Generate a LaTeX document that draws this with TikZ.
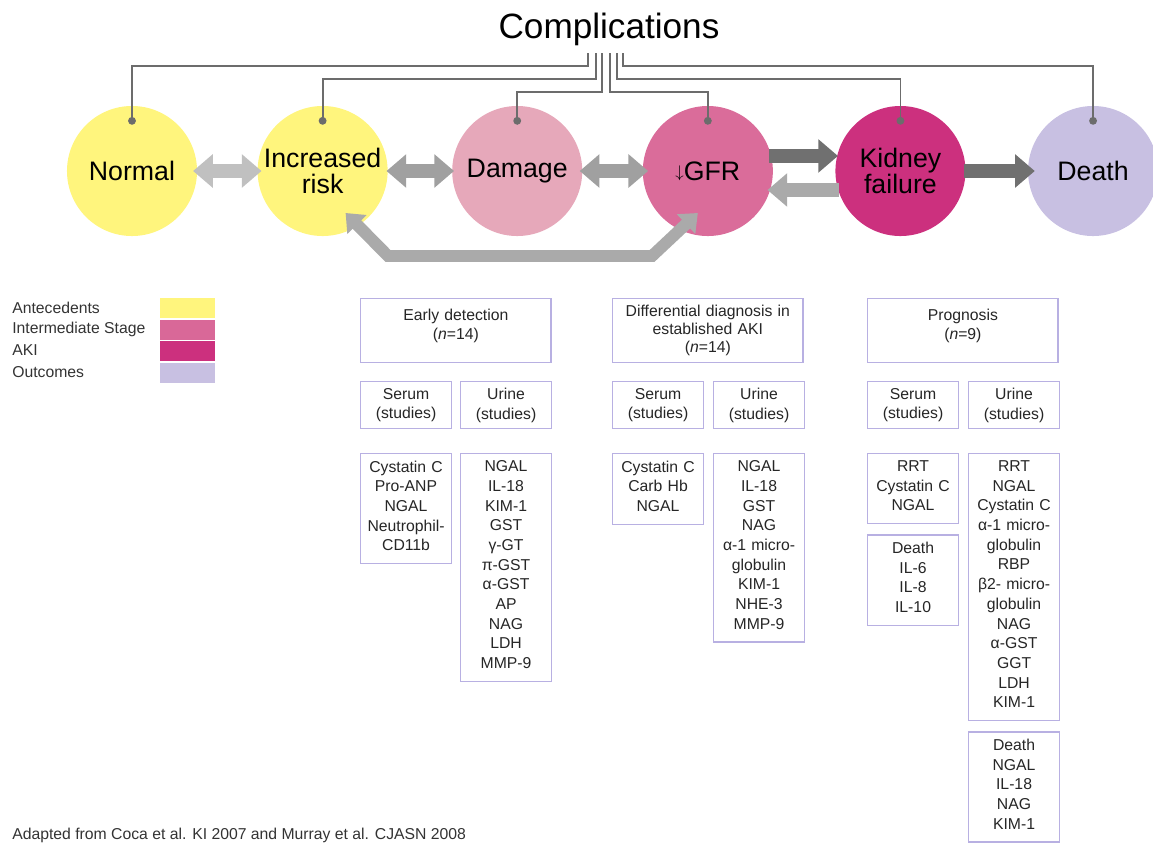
\documentclass[tikz,border=0pt]{standalone}
\usepackage{fontspec}
\setmainfont{Liberation Sans}
\usepackage{tikz}
\usetikzlibrary{
  arrows.meta,
  positioning,
  calc
}

\definecolor{antyellow}{RGB}{255,245,125}
\definecolor{dampink}{RGB}{230,168,186}
\definecolor{gfrpink}{RGB}{218,108,154}
\definecolor{akimag}{RGB}{204,48,126}
\definecolor{outlav}{RGB}{200,192,226}
\definecolor{interpink}{RGB}{217,104,152}
\definecolor{boxlav}{RGB}{184,176,226}
\definecolor{arrlight}{RGB}{192,192,192}
\definecolor{arrmid}{RGB}{160,160,160}
\definecolor{arrback}{RGB}{170,170,170}
\definecolor{arrdark}{RGB}{112,112,112}
\definecolor{linegray}{RGB}{108,108,108}

\begin{document}
\begin{tikzpicture}[
      x=0.025cm, y=-0.025cm,
      estado/.style={circle, minimum size=3.25cm, inner sep=0pt, align=center, font=\fontsize{19}{18.5}\selectfont},
      caixa/.style={draw=boxlav, line width=0.9pt, fill=white, align=center, inner xsep=2pt, text=black!85, font=\fontsize{11.2}{14}\selectfont},
      titulo/.style={caixa, anchor=north west, text width=4.62cm, minimum height=45.5pt, inner ysep=3pt},
      grupo/.style={caixa, anchor=north west, text width=2.13cm, minimum height=33.4pt},
      lista/.style={caixa, anchor=north west, text width=2.13cm, inner ysep=5pt, execute at end node=\strut},
      chave/.style={anchor=north west, minimum width=1.375cm, minimum height=0.5cm, inner sep=0pt},
      legenda/.style={anchor=west, inner sep=0pt, text=black!80, font=\fontsize{11.2}{13}\selectfont},
      liga/.style={draw=linegray, line width=1.3pt, -{Circle[length=5.5pt]}},
      seta_dupla/.style={line width=10pt, {Triangle[width=23pt,length=14pt]}-{Triangle[width=23pt,length=14pt]}},
      seta/.style={line width=10pt, -{Triangle[width=23pt,length=14pt]}},
      seta_base/.style={line width=8.5pt, {Triangle[width=18.5pt,length=11.5pt]}-{Triangle[width=18.5pt,length=11.5pt]}}
  ]
      \useasboundingbox (0,0) rectangle (1153,844);

      % Estados
      \node[estado, fill=antyellow] (normal) at (132,171) {Normal};
      \node[estado, fill=antyellow, right=1.5cm of normal] (risk) {Increased\\risk};
      \node[estado, fill=dampink, right=1.6cm of risk] (damage) {Damage};
      \node[estado, fill=gfrpink, right=1.5cm of damage] (gfr) {\raisebox{2pt}{\fontsize{12}{12}\selectfont$\downarrow$}GFR};
      \node[estado, fill=akimag, right=1.55cm of gfr] (kidney) {Kidney\\failure};
      \node[estado, fill=outlav, right=1.55cm of kidney] (death) {Death};

      % Complicações
      \node[font=\fontsize{25}{25}\selectfont, anchor=base] (comp) at (609,38) {Complications};
      \foreach \nd/\xt/\yh in {normal/588/66, risk/596/79, damage/602/92, gfr/610/92, kidney/617/79, death/623/66}{
          \coordinate (c-\nd) at (\xt,53);
          \draw[liga] (c-\nd) -- (\xt,\yh) -| ([yshift=-13.5pt]\nd.north);
      }

      % Setas entre estados
      \draw[seta_dupla, arrlight] ([xshift=-3pt]normal.east) -- ([xshift=3pt]risk.west);
      \draw[seta_dupla, arrmid] ([xshift=-1pt]risk.east) -- ([xshift=1.5pt]damage.west);
      \draw[seta_dupla, arrmid] ([xshift=-2pt]damage.east) -- ([xshift=4pt]gfr.west);
      \draw[seta, arrdark] ([xshift=-3pt,yshift=10.7pt]gfr.east) -- ([xshift=2pt,yshift=10.7pt]kidney.west);
      \draw[seta, arrback] ([xshift=2.5pt,yshift=-13.5pt]kidney.west) -- ([xshift=-4pt,yshift=-13.5pt]gfr.east);
      \draw[seta, arrdark] ([xshift=-1pt]kidney.east) -- ([xshift=5pt]death.west);
      \draw[seta_base, arrback] ($(risk.center)+(23,42)$) -- (388,256) -- (652,256) -- ($(gfr.center)+(-10,42)$);

      % Legenda
      \node[chave, fill=antyellow] (k-ante) at (160,298) {};
      \node[chave, fill=interpink, below=0.025cm of k-ante] (k-inter) {};
      \node[chave, fill=akimag, below=0.025cm of k-inter] (k-aki) {};
      \node[chave, fill=outlav, below=0.025cm of k-aki] (k-out) {};
      \node[legenda] (l-ante) at (12,308) {Antecedents};
      \node[legenda] (l-inter) at (12,329) {Intermediate Stage};
      \node[legenda] (l-aki) at (12,350) {AKI};
      \node[legenda] (l-out) at (12,372) {Outcomes};

      % Detecção precoce
      \node[titulo, text depth=23pt] (early) at (360,298) {Early detection\\(\textit{n}=14)};
      \node[grupo] (early-s) at (360,381) {Serum\\(studies)};
      \node[grupo] (early-u) at (460,381) {Urine\\(studies)};
      \node[lista] (early-sl) at (360,453) {Cystatin C\\Pro-ANP\\NGAL\\Neutrophil-\\CD11b};
      \node[lista] (early-ul) at (460,453) {NGAL\\IL-18\\KIM-1\\GST\\γ-GT\\π-GST\\α-GST\\AP\\NAG\\LDH\\MMP-9};

      % Diagnóstico diferencial
      \node[titulo, font=\fontsize{11.2}{12.6}\selectfont] (diff) at (612,298) {Differential diagnosis in\\established AKI\\(\textit{n}=14)};
      \node[grupo] (diff-s) at (612,381) {Serum\\(studies)};
      \node[grupo] (diff-u) at (713,381) {Urine\\(studies)};
      \node[lista] (diff-sl) at (612,453) {Cystatin C\\Carb Hb\\NGAL};
      \node[lista] (diff-ul) at (713,453) {NGAL\\IL-18\\GST\\NAG\\α-1 micro-\\globulin\\KIM-1\\NHE-3\\MMP-9};

      % Prognóstico
      \node[titulo, text depth=23pt] (prog) at (867,298) {Prognosis\\(\textit{n}=9)};
      \node[grupo] (prog-s) at (867,381) {Serum\\(studies)};
      \node[grupo] (prog-u) at (968,381) {Urine\\(studies)};
      \node[lista] (prog-sl) at (867,453) {RRT\\Cystatin C\\NGAL};
      \node[lista, below=0.25cm of prog-sl] (prog-sd) {Death\\IL-6\\IL-8\\IL-10};
      \node[lista] (prog-ul) at (968,453) {RRT\\NGAL\\Cystatin C\\α-1 micro-\\globulin\\RBP\\β2- micro-\\globulin\\NAG\\α-GST\\GGT\\LDH\\KIM-1};
      \node[lista, below=0.25cm of prog-ul] (prog-ud) {Death\\NGAL\\IL-18\\NAG\\KIM-1};

      % Fonte
      \node[legenda] (fonte) at (12,835) {Adapted from Coca et al. KI 2007 and Murray et al. CJASN 2008};

  \end{tikzpicture}
\end{document}
